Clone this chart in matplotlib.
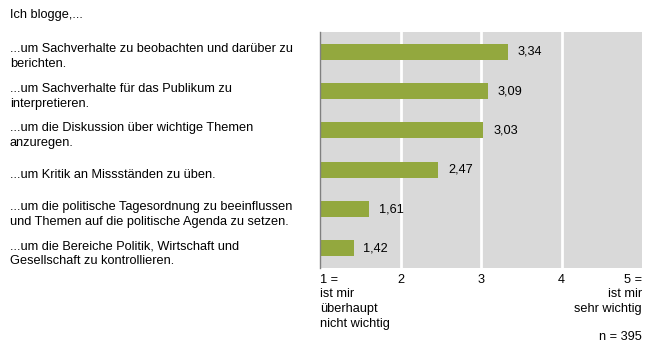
import numpy as np
import matplotlib
matplotlib.use('Agg')
import matplotlib.pyplot as plt
import matplotlib.transforms as mtransforms

plt.rcParams['font.family'] = ['Liberation Sans', 'DejaVu Sans']
plt.rcParams['font.size'] = 9.2

title = 'Ich blogge,...'
categories = [
    '...um Sachverhalte zu beobachten und darüber zu\nberichten.',
    '...um Sachverhalte für das Publikum zu\ninterpretieren.',
    '...um die Diskussion über wichtige Themen\nanzuregen.',
    '...um Kritik an Missständen zu üben.',
    '...um die politische Tagesordnung zu beeinflussen\nund Themen auf die politische Agenda zu setzen.',
    '...um die Bereiche Politik, Wirtschaft und\nGesellschaft zu kontrollieren.',
]
values = [3.34, 3.09, 3.03, 2.47, 1.61, 1.42]
tick_vals = [1, 2, 3, 4, 5]
tick_labels = ['1 =\nist mir\nüberhaupt\nnicht wichtig', '2', '3', '4',
               '5 =\nist mir\nsehr wichtig']
note = 'n = 395'

bar_color = '#93a83e'
bg_color = '#d9d9d9'

fig = plt.figure(figsize=(6.5, 3.5), dpi=100)
ax = fig.add_axes([320/650, 1 - 268/350, 322/650, 236/350])
ax.set_facecolor(bg_color)

y = np.arange(len(values))
base = tick_vals[0]
ax.barh(y, [v - base for v in values], left=base, height=0.4,
        color=bar_color, zorder=3)

for yi, v in zip(y, values):
    ax.text(v + 0.12, yi, f'{v:.2f}'.replace('.', ','), va='center',
            ha='left', color='black', zorder=4)

ax.set_xlim(1, 5)
ax.set_ylim(len(values) - 0.5, -0.5)
ax.set_yticks([])
ax.set_xticks(tick_vals)
ax.set_xticklabels(tick_labels, linespacing=1.32)
ax.tick_params(axis='x', length=0, pad=4)
labels = ax.get_xticklabels()
labels[0].set_ha('left')
labels[0].set_multialignment('left')
labels[-1].set_ha('right')
labels[-1].set_multialignment('right')

for xv in tick_vals[1:-1]:
    ax.axvline(xv, color='white', lw=2, zorder=2)

for s in ['top', 'right', 'bottom']:
    ax.spines[s].set_visible(False)
ax.spines['left'].set_color('#808080')
ax.spines['left'].set_linewidth(1)
ax.spines['left'].set_zorder(5)

# category labels at the left, y in data coords
trans = mtransforms.blended_transform_factory(fig.transFigure, ax.transData)
for yi, lab in zip(y, categories):
    ax.text(10/650, yi + 0.13, lab, transform=trans, ha='left', va='center',
            linespacing=1.32)

fig.text(10/650, 1 - 15/350, title, ha='left', va='center')
fig.text(642/650, 1 - 337/350, note, ha='right', va='center')

fig.savefig('out.png', dpi=100, facecolor='white')
